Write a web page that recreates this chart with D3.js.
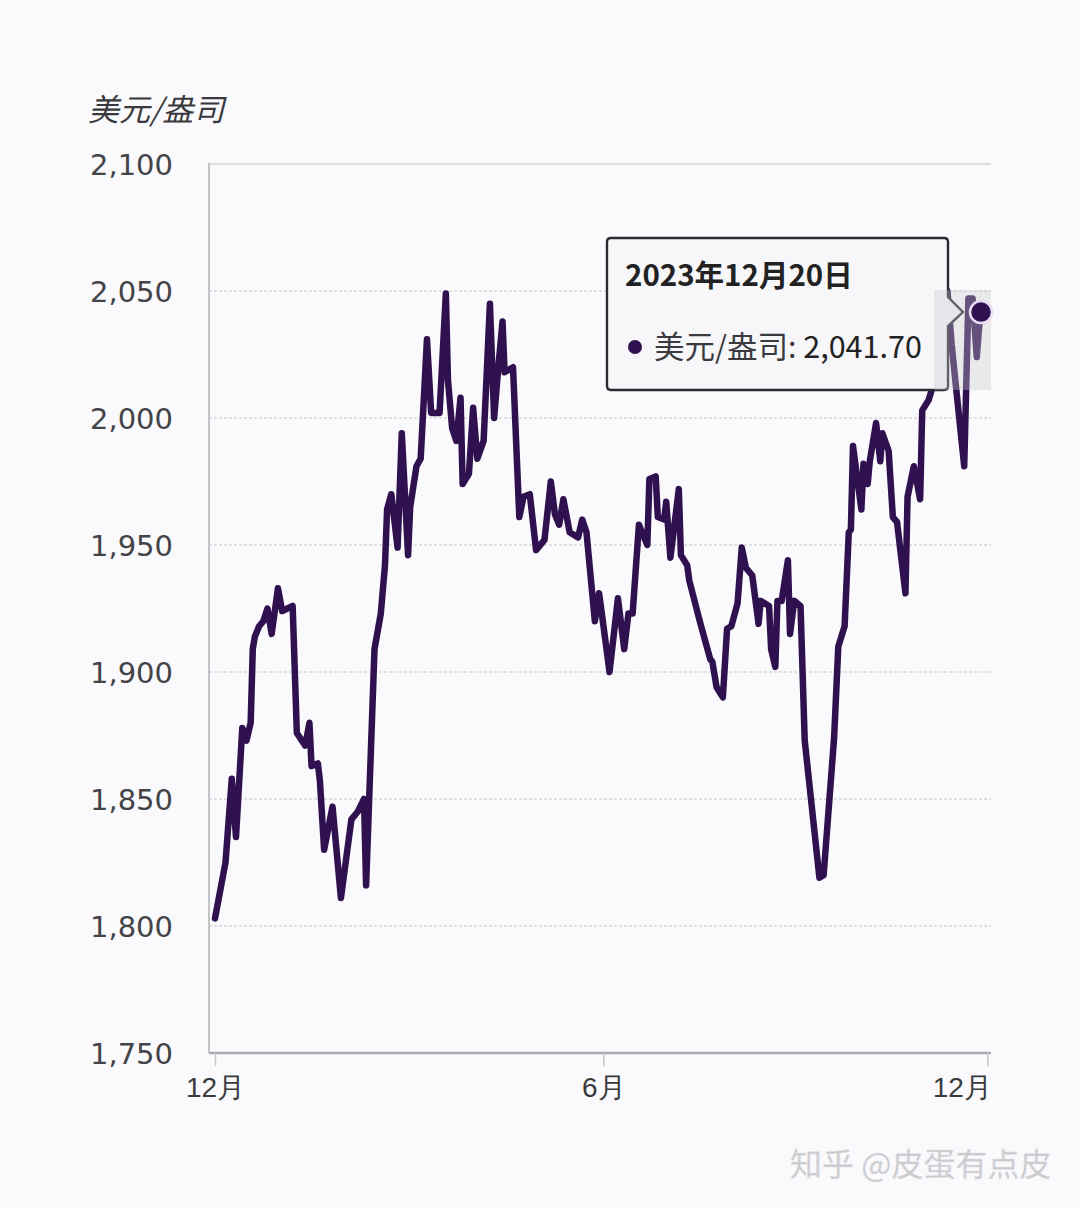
<!DOCTYPE html>
<html>
<head>
<meta charset="utf-8">
<script src="https://cdn.jsdelivr.net/npm/d3@7/dist/d3.min.js"></script>
<style>
  html, body { margin: 0; padding: 0; background: #fafafc; }
  svg { display: block; }
</style>
</head>
<body>
<svg id="chart" width="1080" height="1208"></svg>
<script>
// ---- data ----
const startDate = "2022-12-20";               // first data day
const dayOffsets = [ // days since startDate
  0,5,8,10,13,15,17,18,19,21,23,25,27,30,32,37,39,43,45,46,49,50,52,56,60,65,68,71,72,76,
  79,81,82,84,87,89,92,93,96,98,101,103,107,110,111,113,115,117,118,121,123,125,128,131,133,135,137,138,142,145,
  147,150,153,157,160,162,164,166,169,173,175,177,181,183,184,188,192,195,197,199,202,206,207,210,211,214,215,217,221,222,
  225,226,231,236,237,239,242,244,246,249,251,253,256,259,260,264,265,267,268,270,273,274,276,279,281,288,290,295,297,300,
  302,303,304,308,309,311,312,315,317,318,321,323,325,329,330,333,336,337,340,343,347,349,351,354,357,359,361,363,364,365
];
const prices = [ // USD per ounce
  1803,1825,1858,1835,1878,1873,1880,1909,1914,1918,1920,1925,1915,1933,1924,1926,1876,1871,1880,1863,1864,1857,1830,1847,1811,1842,1845,1850,1816,1909,
  1923,1942,1964,1970,1949,1994,1946,1965,1981,1984,2031,2002,2002,2049,2015,1996,1991,2008,1974,1978,2004,1984,1991,2045,2000,2020,2038,2018,2020,1961,
  1969,1970,1948,1952,1975,1962,1958,1968,1955,1953,1960,1955,1920,1931,1925,1900,1929,1909,1923,1923,1958,1950,1976,1977,1961,1960,1967,1945,1972,1946,
  1942,1936,1920,1905,1904,1894,1890,1917,1918,1927,1949,1941,1938,1919,1928,1926,1909,1902,1928,1928,1944,1915,1928,1926,1873,1819,1820,1874,1910,1918,
  1955,1956,1989,1964,1982,1974,1983,1998,1983,1994,1987,1961,1959,1931,1969,1981,1968,2003,2007,2015,2040,2050,2029,2005,1981,2047,2047,2024,2035,2041.70
];
const yTicks = [1750, 1800, 1850, 1900, 1950, 2000, 2050, 2100];
const xTickOffsets = [0, 185, 368];
const xTickLabels = ["12月", "6月", "12月"];
const unitLabel = "美元/盎司";
const tooltipDate = "2023年12月20日";
const tooltipValue = 2041.70;
const watermark = "知乎 @皮蛋有点皮";

// ---- setup ----
const svg = d3.select("#chart");
const t0 = d3.timeParse("%Y-%m-%d")(startDate);
const toDate = d => d3.timeDay.offset(t0, d);
const data = dayOffsets.map((d, i) => ({ date: toDate(d), value: prices[i] }));

const x = d3.scaleTime().domain([t0, toDate(368)]).range([215, 987.3]);
const y = d3.scaleLinear().domain([1750, 2100]).range([1053, 164]);
const plotLeft = 209, plotRight = 991;

// background
svg.append("rect").attr("width", 1080).attr("height", 1208).attr("fill", "#fafafc");

// gridlines
svg.append("g").selectAll("line").data(yTicks.filter(v => v > 1750)).join("line")
  .attr("x1", plotLeft).attr("x2", plotRight)
  .attr("y1", d => y(d)).attr("y2", d => y(d))
  .attr("stroke", d => d === 2100 ? "#d4d4d8" : "#d8d8dc")
  .attr("stroke-width", 1.6)
  .attr("stroke-dasharray", d => d === 2100 ? null : "3,2");

// left axis line
svg.append("line").attr("x1", plotLeft).attr("x2", plotLeft)
  .attr("y1", y(2100) - 1).attr("y2", y(1750))
  .attr("stroke", "#c4c4c8").attr("stroke-width", 2);

// y tick labels
const yAxis = d3.axisLeft(y).tickValues(yTicks).tickSize(0).tickPadding(36)
  .tickFormat(d3.format(","));
const gy = svg.append("g").attr("transform", `translate(${plotLeft},0)`).call(yAxis);
gy.select(".domain").remove();
gy.selectAll("text").attr("font-family", "'DejaVu Sans', Verdana, sans-serif")
  .attr("font-size", 29).attr("fill", "#444448").attr("dy", "0.35em");

// x axis
const xTickDates = xTickOffsets.map(toDate);
const xAxis = d3.axisBottom(x).tickValues(xTickDates).tickSize(13).tickPadding(11)
  .tickFormat((d, i) => xTickLabels[i]);
const gx = svg.append("g").attr("transform", `translate(0,${y(1750)})`).call(xAxis);
gx.select(".domain").attr("d", `M${plotLeft},0H${plotRight}`).attr("stroke", "#a9a9ae").attr("stroke-width", 2.4);
gx.selectAll(".tick line").attr("stroke", "#c8c8cc").attr("stroke-width", 1.5);
gx.selectAll(".tick text")
  .attr("font-family", "'Liberation Sans Narrow', 'Liberation Sans', sans-serif")
  .attr("font-size", 28).attr("fill", "#3a3a3e");
gx.selectAll(".tick").filter((d, i) => i === xTickDates.length - 1).select("text")
  .attr("text-anchor", "end").attr("dx", 4);

// unit label
svg.append("text").attr("x", 88).attr("y", 121).text(unitLabel)
  .attr("font-family", "'Noto Sans CJK SC', sans-serif").attr("font-style", "italic")
  .attr("font-size", 31).attr("fill", "#3a3a3e");

// price line
const line = d3.line().x(d => x(d.date)).y(d => y(d.value)).curve(d3.curveLinear);
svg.append("path").datum(data).attr("d", line)
  .attr("fill", "none").attr("stroke", "#2f1150").attr("stroke-width", 6.5)
  .attr("stroke-linejoin", "round").attr("stroke-linecap", "round");

// tooltip
const last = data[data.length - 1];
const mx = x(last.date), my = y(last.value);
const tip = svg.append("g");
const bx0 = 607, bx1 = 948, by0 = 238, by1 = 390, r = 4;
tip.append("path")
  .attr("d", `M${bx0 + r},${by0} H${bx1 - r} Q${bx1},${by0} ${bx1},${by0 + r} V${my - 15} L${mx - 18},${my} L${bx1},${my + 14} V${by1 - r} Q${bx1},${by1} ${bx1 - r},${by1} H${bx0 + r} Q${bx0},${by1} ${bx0},${by1 - r} V${by0 + r} Q${bx0},${by0} ${bx0 + r},${by0} Z`)
  .attr("fill", "#f7f7fa").attr("stroke", "#2c2a33").attr("stroke-width", 2.4);
tip.append("text").attr("x", 625).attr("y", 286).text(tooltipDate)
  .attr("font-family", "'Noto Sans CJK SC', sans-serif").attr("font-weight", "bold")
  .attr("font-size", 29.5).attr("fill", "#222");
tip.append("circle").attr("cx", 635).attr("cy", 347).attr("r", 7).attr("fill", "#2f1150");
const t2 = tip.append("text").attr("x", 654).attr("y", 358)
  .attr("font-family", "'Noto Sans CJK SC', sans-serif").attr("font-size", 30.5);
t2.append("tspan").text(unitLabel + ": ").attr("fill", "#3a3a3e");
t2.append("tspan").text(d3.format(",.2f")(tooltipValue)).attr("fill", "#222");

// hover highlight band
svg.append("rect").attr("x", 934).attr("y", 290).attr("width", 57).attr("height", 100)
  .attr("fill", "#c8c8cf").attr("opacity", 0.35);

// marker
svg.append("circle").attr("cx", mx).attr("cy", my).attr("r", 11)
  .attr("fill", "#2f1150").attr("stroke", "#eadcf2").attr("stroke-width", 2.5);

// watermark
svg.append("text").attr("x", 790).attr("y", 1176).text(watermark)
  .attr("font-family", "'Noto Sans CJK SC', sans-serif").attr("font-size", 32)
  .attr("fill", "#cacace").attr("stroke", "#e2e2e6").attr("stroke-width", 0.5);
</script>
</body>
</html>
